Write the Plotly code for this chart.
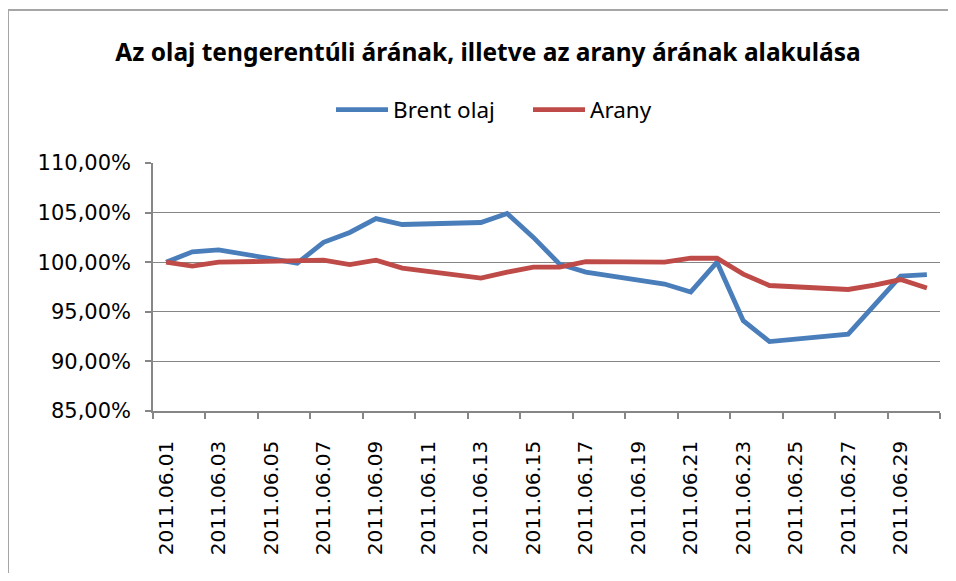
import plotly.graph_objects as go

title = "Az olaj tengerentúli árának, illetve az arany árának alakulása"
dates = ["2011-06-01", "2011-06-02", "2011-06-03", "2011-06-06", "2011-06-07", "2011-06-08",
         "2011-06-09", "2011-06-10", "2011-06-13", "2011-06-14", "2011-06-15", "2011-06-16",
         "2011-06-17", "2011-06-20", "2011-06-21", "2011-06-22", "2011-06-23", "2011-06-24",
         "2011-06-27", "2011-06-28", "2011-06-29", "2011-06-30"]
brent = [1.000, 1.0105, 1.0125, 0.999, 1.020, 1.030, 1.044, 1.038, 1.040, 1.049, 1.025, 0.998,
         0.990, 0.978, 0.970, 1.000, 0.941, 0.920, 0.9275, 0.956, 0.986, 0.9875]
arany = [1.000, 0.996, 1.000, 1.002, 1.002, 0.9975, 1.002, 0.994, 0.984, 0.990, 0.995, 0.995,
         1.0005, 1.000, 1.004, 1.004, 0.988, 0.9765, 0.9725, 0.977, 0.9825, 0.974]
tick_dates = ["2011-06-%02d" % d for d in range(1, 30, 2)]
tick_labels = ["2011.06.%02d" % d for d in range(1, 30, 2)]
y_ticks = [0.85, 0.90, 0.95, 1.00, 1.05, 1.10]

fig = go.Figure()
fig.add_trace(go.Scatter(x=dates, y=brent, name="Brent olaj", mode="lines",
                         line=dict(color="#4A7EBB", width=4.8)))
fig.add_trace(go.Scatter(x=dates, y=arany, name="Arany", mode="lines",
                         line=dict(color="#BE4B48", width=4.8)))

# page body has an 8px margin; figure coordinates = reference coordinates - 8
OFF = 8
W, H = 940, 565
L, T = 153 - OFF, 163 - OFF
R = W - (940 - OFF)
B = H - (411 - OFF)
pw, ph = W - L - R, H - T - B

def px_x(sx):
    return (sx - OFF - L) / pw

def px_y(sy):
    return (H - B - (sy - OFF)) / ph

fig.update_layout(
    width=W, height=H,
    margin=dict(l=L, r=R, t=T, b=B, autoexpand=False),
    paper_bgcolor="white", plot_bgcolor="white",
    separators=", ",
    showlegend=True,
    title=dict(text=title, x=(488 - OFF) / W, xanchor="center", y=1 - (52 - OFF) / H,
               yanchor="middle",
               font=dict(family="Noto Sans", size=24.5, color="#000000", weight="bold")),
    legend=dict(orientation="h", x=px_x(331), xanchor="left",
                y=px_y(110), yanchor="middle",
                font=dict(family="Noto Sans", size=22.5, color="#000000"),
                itemwidth=52, entrywidth=130, entrywidthmode="pixels",
                bgcolor="rgba(0,0,0,0)"),
    xaxis=dict(type="date", range=["2011-05-31 12:00", "2011-06-30 12:00"],
               tickvals=tick_dates, ticktext=tick_labels, tickangle=-90,
               ticks="", ticklabelstandoff=20,
               tickfont=dict(family="DejaVu Sans", size=20, color="#000000"),
               showgrid=False, showline=True, linecolor="#868686", linewidth=1.5,
               minor=dict(tick0="2011-05-31 12:00", dtick=2 * 86400000, ticks="outside",
                          ticklen=6, tickcolor="#868686", tickwidth=1.5, showgrid=False),
               fixedrange=True),
    yaxis=dict(range=[0.85, 1.10], tickvals=y_ticks, tickformat=".2%",
               ticks="outside", ticklen=6, tickcolor="#868686", tickwidth=1.5,
               ticklabelstandoff=10,
               tickfont=dict(family="DejaVu Sans", size=21, color="#000000"),
               showgrid=True, gridcolor="#868686", gridwidth=1.3,
               showline=True, linecolor="#868686", linewidth=1.5,
               zeroline=False, fixedrange=True),
    shapes=[
        dict(type="line", xref="paper", yref="paper",
             x0=px_x(8), x1=px_x(970), y0=px_y(10), y1=px_y(10),
             line=dict(color="#A6A6A6", width=2)),
        dict(type="line", xref="paper", yref="paper",
             x0=px_x(8), x1=px_x(8), y0=px_y(10), y1=px_y(600),
             line=dict(color="#A6A6A6", width=2)),
    ],
)

fig.write_html("out.html")
